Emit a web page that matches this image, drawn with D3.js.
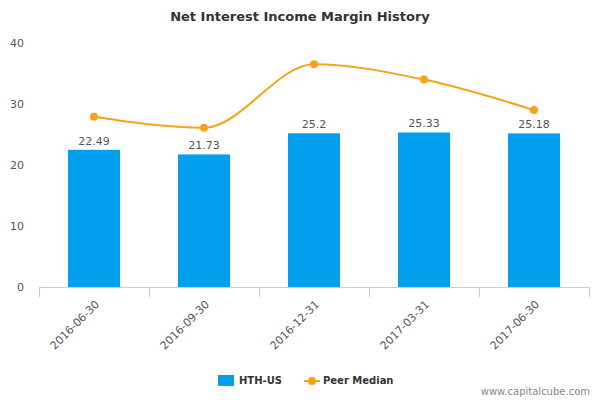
<!DOCTYPE html>
<html><head><meta charset="utf-8">
<script src="https://cdn.jsdelivr.net/npm/d3@7"></script>
<style>body{margin:0;background:#fff;font-family:"DejaVu Sans",sans-serif}</style>
</head><body>
<script>
const categories = ['2016-06-30', '2016-09-30', '2016-12-31', '2017-03-31', '2017-06-30'];
const hthValues = [22.49, 21.73, 25.2, 25.33, 25.18];
const peerMedian = [27.9, 26.1, 36.5, 34.0, 29.0];
const yTicks = [0, 10, 20, 30, 40];

const svg = d3.select('body').append('svg').attr('width', 600).attr('height', 400);
const margin = { top: 43, left: 39, right: 11, bottom: 113 };
const width = 600 - margin.left - margin.right;
const height = 400 - margin.top - margin.bottom;

const x = d3.scaleBand().domain(categories).range([margin.left, margin.left + width]);
const y = d3.scaleLinear().domain([0, 40]).range([margin.top + height, margin.top]);

svg.append('text').attr('x', 300).attr('y', 21).attr('text-anchor', 'middle')
  .attr('font-size', 13).attr('font-weight', 'bold').attr('fill', '#333')
  .text('Net Interest Income Margin History');

// y labels
svg.selectAll('.yl').data(yTicks).enter().append('text')
  .attr('x', 24).attr('y', d => y(d) + 4).attr('text-anchor', 'end')
  .attr('font-size', 11).attr('fill', '#555').text(d => d);

// x axis
svg.append('line').attr('x1', margin.left).attr('x2', margin.left + width)
  .attr('y1', y(0) + 0.5).attr('y2', y(0) + 0.5).attr('stroke', '#c0d0e0');
const ticks = [...categories.map(c => x(c)), margin.left + width];
svg.selectAll('.xt').data(ticks).enter().append('line')
  .attr('x1', d => d + 0.5).attr('x2', d => d + 0.5)
  .attr('y1', y(0)).attr('y2', y(0) + 10).attr('stroke', '#c0d0e0');
svg.selectAll('.xl').data(categories).enter().append('text')
  .attr('transform', d => `translate(${x(d) + x.bandwidth() / 2 + 6},${y(0) + 18}) rotate(-45)`)
  .attr('text-anchor', 'end').attr('font-size', 11).attr('fill', '#555').text(d => d);

// bars
const bw = 52;
svg.selectAll('.bar').data(hthValues).enter().append('rect')
  .attr('x', (d, i) => x(categories[i]) + x.bandwidth() / 2 - bw / 2)
  .attr('y', d => y(d)).attr('width', bw).attr('height', d => y(0) - y(d))
  .attr('fill', '#039fef');
svg.selectAll('.bl').data(hthValues).enter().append('text')
  .attr('x', (d, i) => x(categories[i]) + x.bandwidth() / 2)
  .attr('y', d => y(d) - 5).attr('text-anchor', 'middle')
  .attr('font-size', 11).attr('fill', '#555').text(d => d);

// peer line
const cx = i => x(categories[i]) + x.bandwidth() / 2;
const line = d3.line().x((d, i) => cx(i)).y(d => y(d)).curve(d3.curveMonotoneX);
svg.append('path').datum(peerMedian).attr('d', line)
  .attr('fill', 'none').attr('stroke', '#f9a11b').attr('stroke-width', 2);
svg.selectAll('.pt').data(peerMedian).enter().append('circle')
  .attr('cx', (d, i) => cx(i)).attr('cy', d => y(d)).attr('r', 4).attr('fill', '#f9a11b');

// legend
svg.append('rect').attr('x', 218).attr('y', 375).attr('width', 16).attr('height', 11).attr('fill', '#039fef');
svg.append('text').attr('x', 239).attr('y', 384).attr('font-size', 10).attr('font-weight', 'bold').attr('fill', '#333').text('HTH-US');
svg.append('line').attr('x1', 304).attr('x2', 320).attr('y1', 381).attr('y2', 381).attr('stroke', '#f9a11b').attr('stroke-width', 2);
svg.append('circle').attr('cx', 312).attr('cy', 381).attr('r', 4).attr('fill', '#f9a11b');
svg.append('text').attr('x', 323).attr('y', 384).attr('font-size', 10).attr('font-weight', 'bold').attr('fill', '#333').text('Peer Median');

svg.append('text').attr('x', 590).attr('y', 395).attr('text-anchor', 'end')
  .attr('font-size', 10).attr('fill', '#888').text('www.capitalcube.com');
</script>
</body></html>
